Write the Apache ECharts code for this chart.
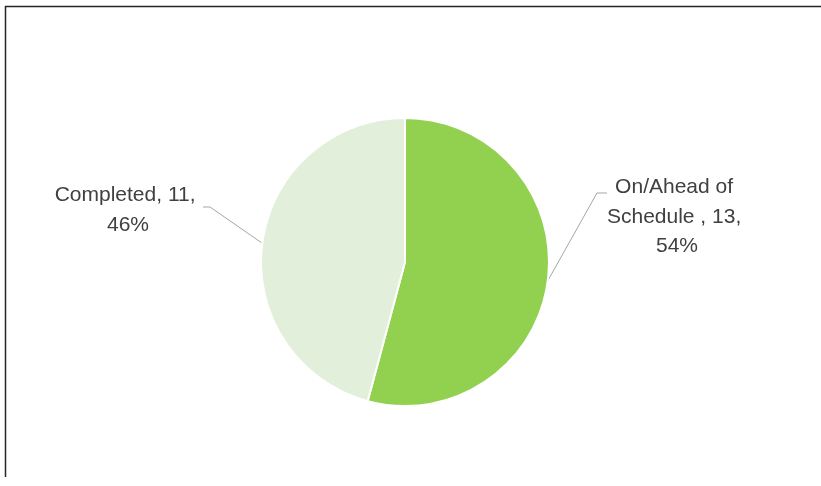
<!DOCTYPE html>
<html>
<head>
<meta charset="utf-8">
<script src="https://cdn.jsdelivr.net/npm/echarts@6/dist/echarts.min.js"></script>
<style>html,body{margin:0;padding:0;background:#fff;}#c{width:821px;height:486px;}</style>
</head>
<body>
<div id="c"></div>
<script>
const categories = ['On/Ahead of Schedule ', 'Completed'];
const values = [13, 11];
const colors = ['#92D050', '#E2EFDA'];

const chart = echarts.init(document.getElementById('c'), null, {renderer: 'canvas'});
const labelSpots = [
  {x: 677, y: 217, bend: [597, 193], end: [607, 193]},
  {x: 128, y: 210, bend: [210, 207], end: [203, 207]}
];
chart.setOption({
  animation: false,
  backgroundColor: '#ffffff',
  graphic: [
    {type: 'line', shape: {x1: 5, y1: 6.5, x2: 821, y2: 6.5}, style: {stroke: '#262626', lineWidth: 1.5}},
    {type: 'line', shape: {x1: 5.5, y1: 6, x2: 5.5, y2: 477}, style: {stroke: '#262626', lineWidth: 1.5}}
  ],
  series: [{
    type: 'pie',
    center: [405, 262],
    radius: [0, 144],
    startAngle: 90,
    clockwise: true,
    percentPrecision: 0,
    avoidLabelOverlap: false,
    itemStyle: {borderColor: '#ffffff', borderWidth: 2},
    label: {
      show: true,
      position: 'outside',
      formatter: '{b}, {c}, {d}%',
      width: 152,
      overflow: 'break',
      align: 'center',
      fontFamily: '"Liberation Sans", Arial, sans-serif',
      fontSize: 21,
      lineHeight: 29.5,
      color: '#404040'
    },
    labelLine: {show: true, lineStyle: {color: '#A6A6A6', width: 1}},
    labelLayout: function (params) {
      const s = labelSpots[params.dataIndex];
      const p0 = params.labelLinePoints ? params.labelLinePoints[0] : s.bend;
      return {
        x: s.x, y: s.y, align: 'center', verticalAlign: 'middle',
        labelLinePoints: [p0, s.bend, s.end]
      };
    },
    data: categories.map((n, i) => ({name: n, value: values[i], itemStyle: {color: colors[i]}}))
  }]
});
</script>
</body>
</html>
